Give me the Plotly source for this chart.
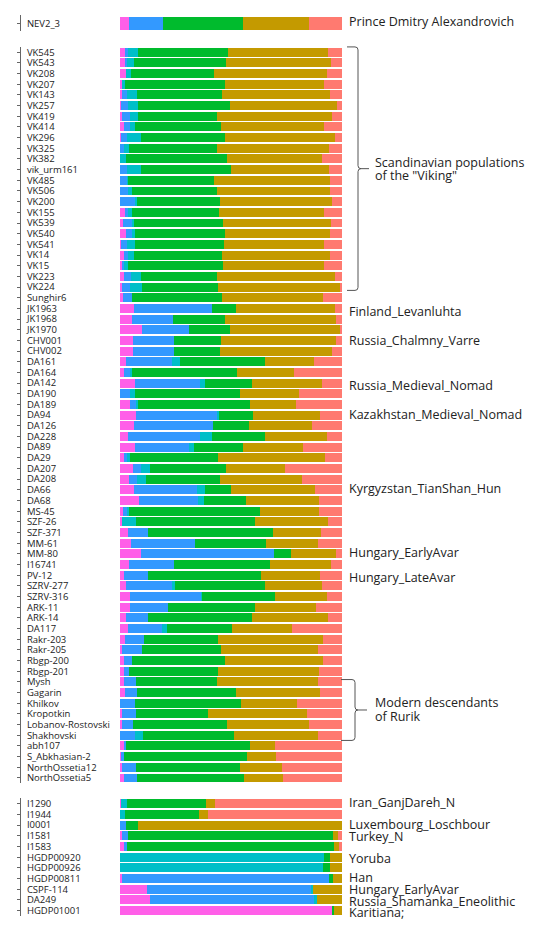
import plotly.graph_objects as go

# The page body has an 8px default margin; reference coordinates are page pixels.
OFF = 8
W, H = 552 - OFF, 941 - OFF

names = [
    "NEV2_3",
    "VK545", "VK543", "VK208", "VK207", "VK143", "VK257", "VK419", "VK414", "VK296", "VK325",
    "VK382", "vik_urm161", "VK485", "VK506", "VK200", "VK155", "VK539", "VK540", "VK541", "VK14",
    "VK15", "VK223", "VK224", "Sunghir6", "JK1963", "JK1968", "JK1970", "CHV001", "CHV002", "DA161",
    "DA164", "DA142", "DA190", "DA189", "DA94", "DA126", "DA228", "DA89", "DA29", "DA207",
    "DA208", "DA66", "DA68", "MS-45", "SZF-26", "SZF-371", "MM-61", "MM-80", "I16741", "PV-12",
    "SZRV-277", "SZRV-316", "ARK-11", "ARK-14", "DA117", "Rakr-203", "Rakr-205", "Rbgp-200", "Rbgp-201", "Mysh",
    "Gagarin", "Khilkov", "Kropotkin", "Lobanov-Rostovski", "Shakhovski", "abh107", "S_Abkhasian-2", "NorthOssetia12", "NorthOssetia5",
    "I1290", "I1944", "I0001", "I1581", "I1583", "HGDP00920", "HGDP00926", "HGDP00811", "CSPF-114", "DA249", "HGDP01001",
]
block_sizes = [1, 69, 11]

pink = [
    .041,
    .021, .021, .026, .009, .008, .003, .009, .017, .003, 0,
    0, 0, 0, 0, 0, .021, .015, .026, .005, .020,
    .012, .020, .009, .014, .063, .053, .099, .059, .059, .026,
    .017, .068, 0, .047, .072, .062, .035, .068, .018, .060,
    .041, .065, .084, .015, .011, .036, .048, .095, .041, .018,
    .027, .044, .044, .027, .036, .021, .011, .018, .017, .018,
    .021, 0, .008, .009, 0, .017, .003, .011, .018,
    .005, 0, 0, .011, .018, 0, 0, .009, .120, .135, .959,
]
blue = [
    .153,
    .015, .012, 0, 0, .023, .033, .036, .027, .030, .017,
    0, .030, .033, .038, .069, .014, .042, .029, .027, .017,
    .008, .030, .035, .039, .353, .185, .210, .182, .182, .207,
    .027, .291, .044, .023, .363, .357, .327, .242, .015, .036,
    .036, .282, .267, .015, 0, .092, .290, .599, .201, .107,
    .207, .321, .170, .099, .152, .086, .089, .036, .024, .053,
    .057, .069, .063, .051, .069, .011, .017, .063, .057,
    0, 0, .027, .023, .012, 0, 0, .934, .742, .739, 0,
]
cyan = [
    0,
    .045, .030, .024, .015, .047, .045, .036, .024, .063, .024,
    .029, .066, .005, .015, .009, .018, .005, .012, .035, .026,
    .018, .045, .054, 0, 0, 0, 0, 0, 0, .035,
    .011, .023, .024, .011, .011, 0, .053, .024, .012, .038,
    .038, .035, .027, .012, .060, 0, 0, 0, 0, 0,
    .014, .006, 0, 0, .023, 0, 0, 0, 0, 0,
    0, 0, 0, 0, .035, 0, 0, 0, 0,
    .026, .024, 0, 0, 0, .917, .916, 0, .006, .014, 0,
]
green = [
    .360,
    .405, .414, .375, .447, .380, .413, .357, .387, .378, .398,
    .452, .404, .386, .383, .374, .392, .402, .404, .401, .398,
    .426, .344, .344, .407, .105, .233, .185, .212, .210, .383,
    .473, .212, .473, .506, .153, .162, .239, .219, .396, .342,
    .336, .120, .188, .587, .536, .563, .318, .078, .435, .508,
    .405, .329, .396, .467, .294, .335, .356, .420, .399, .366,
    .444, .477, .324, .423, .410, .556, .553, .467, .482,
    .357, .332, .053, .925, .934, .030, .031, .015, 0, 0, .003,
]
gold = [
    .296,
    .449, .473, .506, .449, .488, .483, .517, .465, .494, .503,
    .429, .443, .520, .508, .505, .476, .486, .476, .450, .486,
    .456, .530, .550, .456, .447, .500, .495, .520, .503, .221,
    .254, .314, .267, .207, .302, .284, .278, .272, .482, .266,
    .369, .378, .332, .269, .329, .213, .236, .201, .272, .270,
    .255, .231, .272, .342, .269, .474, .438, .441, .458, .456,
    .378, .252, .446, .368, .378, .116, .131, .188, .179,
    .039, .041, .920, .024, .024, .053, .053, .042, .132, .112, .038,
]
salmon = [
    .150,
    .065, .050, .069, .080, .054, .023, .045, .080, .032, .058,
    .090, .057, .056, .056, .043, .079, .050, .053, .082, .053,
    .080, .031, .008, .084, .032, .029, .011, .027, .046, .128,
    .218, .092, .192, .206, .099, .135, .068, .175, .077, .258,
    .180, .120, .102, .102, .064, .096, .108, .027, .051, .097,
    .092, .069, .118, .065, .226, .084, .106, .085, .102, .107,
    .100, .202, .159, .149, .108, .300, .296, .271, .264,
    .573, .603, 0, .017, .012, 0, 0, 0, 0, 0, 0,
]

components = [pink, blue, cyan, green, gold, salmon]
comp_names = ["K1", "K2", "K3", "K4", "K5", "K6"]
colors = ["#FF5FE8", "#3399FF", "#00BFC8", "#00BB2D", "#C49A00", "#FF7A70"]

group_labels = [
    ("Prince Dmitry Alexandrovich", 21),
    ("Finland_Levanluhta", 311),
    ("Russia_Chalmny_Varre", 340),
    ("Russia_Medieval_Nomad", 385),
    ("Kazakhstan_Medieval_Nomad", 414),
    ("Kyrgyzstan_TianShan_Hun", 489),
    ("Hungary_EarlyAvar", 553),
    ("Hungary_LateAvar", 578),
    ("Iran_GanjDareh_N", 803),
    ("Luxembourg_Loschbour", 825),
    ("Turkey_N", 837),
    ("Yoruba", 859),
    ("Han", 878),
    ("Hungary_EarlyAvar", 890),
    ("Russia_Shamanka_Eneolithic", 902),
    ("Karitiana;", 913),
]
bracket_labels = [
    ("Scandinavian populations", 162),
    ("of the \"Viking\"", 175),
    ("Modern descendants", 703),
    ("of Rurik", 717),
]

FONT = "Open Sans"


def px(x):
    return (x - OFF) / W


def py(y):
    return 1 - (y - OFF) / H


fig = go.Figure()

panels = [
    ("y2", "x2", 14.5, 30.5),
    ("y", "x", 46, 784),
    ("y3", "x3", 799, 917),
]
start = 0
for bi, size in enumerate(block_sizes):
    yid, xid, top, bot = panels[bi]
    sl = slice(start, start + size)
    for ci, comp in enumerate(components):
        fig.add_trace(go.Bar(
            y=names[sl], x=comp[sl], orientation="h",
            marker=dict(color=colors[ci], line=dict(width=0)),
            name=comp_names[ci], showlegend=False,
            xaxis=xid, yaxis=yid, hoverinfo="skip",
        ))
    start += size

layout_axes = {}
start = 0
for bi, size in enumerate(block_sizes):
    yid, xid, top, bot = panels[bi]
    yname = "yaxis" if yid == "y" else "yaxis" + yid[1:]
    xname = "xaxis" if xid == "x" else "xaxis" + xid[1:]
    cats = names[start:start + size]
    layout_axes[xname] = dict(
        domain=[px(120), px(342)], range=[0, 1], visible=False,
        anchor=yid, fixedrange=True,
    )
    layout_axes[yname] = dict(
        domain=[py(bot), py(top)], type="category",
        categoryorder="array", categoryarray=cats,
        tickmode="array", tickvals=cats, ticktext=cats,
        autorange="reversed", anchor="free", position=px(20), side="right",
        showline=True, linecolor="#666", linewidth=1,
        ticks="inside", ticklen=3, tickcolor="#666",
        tickfont=dict(family=FONT, size=9.5, color="#222"),
        showgrid=False, zeroline=False, ticklabelstandoff=4,
    )
    start += size


def bracket(x_left, x_vert, x_tip, y_top, y_bot, r=3):
    ym = (y_top + y_bot) / 2
    pts = [
        f"M {px(x_left)},{py(y_top)}",
        f"L {px(x_vert - r)},{py(y_top)}",
        f"Q {px(x_vert)},{py(y_top)} {px(x_vert)},{py(y_top + r)}",
        f"L {px(x_vert)},{py(ym - r)}",
        f"Q {px(x_vert)},{py(ym)} {px(x_vert + r)},{py(ym)}",
        f"L {px(x_tip)},{py(ym)}",
        f"M {px(x_vert + r)},{py(ym)}",
        f"Q {px(x_vert)},{py(ym)} {px(x_vert)},{py(ym + r)}",
        f"L {px(x_vert)},{py(y_bot - r)}",
        f"Q {px(x_vert)},{py(y_bot)} {px(x_vert - r)},{py(y_bot)}",
        f"L {px(x_left)},{py(y_bot)}",
    ]
    return dict(type="path", xref="paper", yref="paper", path=" ".join(pts),
                line=dict(color="#555", width=1))


shapes = [
    bracket(347, 358, 369, 46, 290),
    bracket(341, 355, 367, 680, 741),
]

annotations = []
for text, yc in group_labels:
    annotations.append(dict(
        x=px(347), y=py(yc), xref="paper", yref="paper", text=text,
        showarrow=False, xanchor="left", yanchor="middle",
        font=dict(family=FONT, size=12.5, color="#222"),
    ))
for text, yc in bracket_labels:
    annotations.append(dict(
        x=px(373), y=py(yc), xref="paper", yref="paper", text=text,
        showarrow=False, xanchor="left", yanchor="middle",
        font=dict(family=FONT, size=12.5, color="#222"),
    ))

fig.update_layout(
    width=W, height=H, margin=dict(l=0, r=0, t=0, b=0),
    paper_bgcolor="white", plot_bgcolor="white",
    barmode="stack", bargap=0.16, showlegend=False,
    shapes=shapes, annotations=annotations,
    **layout_axes,
)

fig.write_html("out.html")
